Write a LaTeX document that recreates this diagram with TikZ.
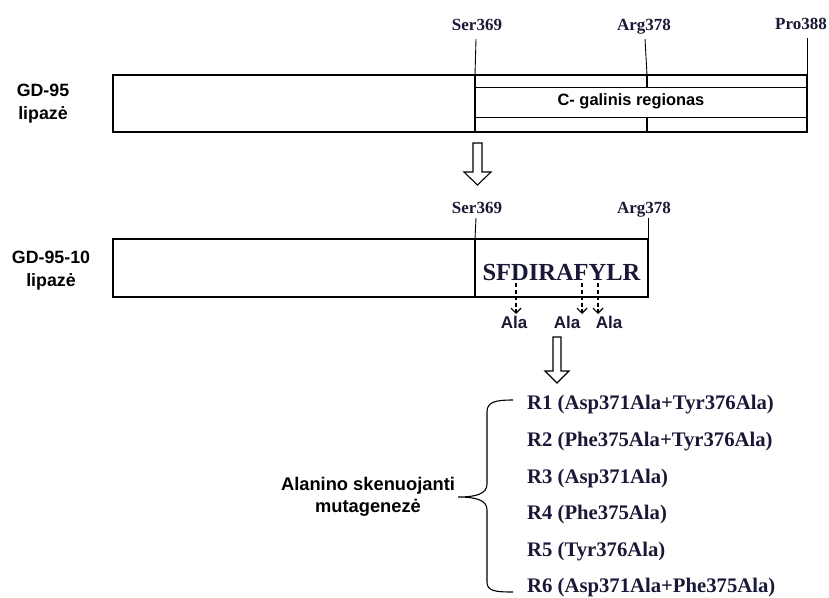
\documentclass[tikz,border=0pt]{standalone}
\usepackage{fontspec}
\setmainfont{Liberation Serif}
\newfontfamily\arialfont{Liberation Sans}
\usetikzlibrary{arrows.meta}
\definecolor{navy}{RGB}{25,25,55}
\tikzset{
  boxline/.style={line width=1.8pt, black},
  thinline/.style={line width=1pt, black},
  tick/.style={line width=0.9pt, black},
  resname/.style={font=\bfseries\fontsize{17}{19}\selectfont, text=navy, inner sep=0pt, anchor=base},
  sanslabel/.style={font=\arialfont\bfseries\fontsize{17.8}{22.5}\selectfont, align=center, inner sep=1pt},
  alalabel/.style={font=\arialfont\bfseries\fontsize{17}{19}\selectfont, text=navy, inner sep=0pt},
  rlabel/.style={font=\bfseries\fontsize{20.7}{23}\selectfont, text=navy, anchor=west, inner sep=0pt},
  hollowarrow/.style={draw=black, line width=1.1pt, fill=white},
  dasharrow/.style={dashed, line width=1.2pt, dash pattern=on 4pt off 2.5pt, -{Straight Barb[length=5pt,width=10pt,line width=1.2pt]}}
}
\begin{document}
\begin{tikzpicture}[x=1pt,y=-1pt]
\useasboundingbox (0,0) rectangle (829,597);
% ---------- top protein ----------
\node[sanslabel] (gd95) at (43,103.5) {GD-95\\lipazė};
\draw[boxline] (113,75) rectangle (807,132);
\coordinate (s1t) at (475,75); \coordinate (s1b) at (475,132);
\coordinate (a1t) at (647,75); \coordinate (a1b) at (647,132);
\draw[boxline] (s1t) -- (s1b);
\draw[boxline] (a1t) -- (647,87) (647,117) -- (a1b);
\draw[thinline] (475,87) -- (807,87) (475,117) -- (807,117);
\node[font=\arialfont\bfseries\fontsize{16.4}{19}\selectfont, inner sep=1pt] (creg) at (631,101) {C- galinis regionas};
\node[resname] (ser1) at (477,30) {Ser369};
\node[resname] (arg1) at (644,30) {Arg378};
\node[resname] (pro1) at (801,29) {Pro388};
\draw[tick] (476,39) -- (s1t);
\draw[tick] (645,39) -- (a1t);
\coordinate (p1t) at (807,75);
\draw[tick] (807,38) -- (p1t);
% hollow arrow 1
\draw[hollowarrow] (473,143) -- (482,143) -- (482,172) -- (491,172) -- (477.5,185) -- (464,172) -- (473,172) -- cycle;
% ---------- second protein ----------
\node[sanslabel] (gd9510) at (51,270.5) {GD-95-10\\lipazė};
\draw[boxline] (113,239) rectangle (648,297);
\coordinate (s2t) at (475,239); \coordinate (s2b) at (475,297);
\draw[line width=2.8pt] (s2t) -- (s2b);
\node[resname] (ser2) at (477,213) {Ser369};
\node[resname] (arg2) at (644,213) {Arg378};
\draw[tick] (476,218) -- (s2t);
\coordinate (a2t) at (648,239);
\draw[tick] (648,218) -- (a2t);
\node[font=\bfseries\fontsize{24.5}{27}\selectfont, text=navy, inner sep=0pt] (seq) at (561.5,273) {SFDIRAFYLR};
\node[alalabel] (ala1) at (514,322) {Ala};
\node[alalabel] (ala2) at (567,322) {Ala};
\node[alalabel] (ala3) at (609,322) {Ala};
\coordinate (d1) at (516,283); \coordinate (d1e) at (516,314);
\coordinate (d2) at (582,283); \coordinate (d2e) at (582,314);
\coordinate (d3) at (598,283); \coordinate (d3e) at (598,314);
\draw[dasharrow] (d1) -- (d1e);
\draw[dasharrow] (d2) -- (d2e);
\draw[dasharrow] (d3) -- (d3e);
% hollow arrow 2
\draw[hollowarrow] (553,337) -- (561,337) -- (561,371) -- (569,371) -- (557,383) -- (545,371) -- (553,371) -- cycle;
% ---------- brace and list ----------
\node[font=\arialfont\bfseries\fontsize{18.3}{22}\selectfont, align=center, inner sep=1pt] (ala) at (368,497) {Alanino skenuojanti\\mutagenezė};
\coordinate (btop) at (513,400);
\coordinate (bbot) at (513,592);
\coordinate (btip) at (458,497);
\draw[line width=1.1pt] (btop) .. controls (495,400) and (487,402) .. (487,412)
  -- (487,484) .. controls (487,494) and (476,497) .. (btip)
  .. controls (476,497) and (487,500) .. (487,510)
  -- (487,582) .. controls (487,591) and (495,592) .. (bbot);
\node[rlabel] (r1) at (527,405) {R1 (Asp371Ala+Tyr376Ala)};
\node[rlabel] (r2) at (527,442) {R2 (Phe375Ala+Tyr376Ala)};
\node[rlabel] (r3) at (527,479) {R3 (Asp371Ala)};
\node[rlabel] (r4) at (527,515) {R4 (Phe375Ala)};
\node[rlabel] (r5) at (527,552) {R5 (Tyr376Ala)};
\node[rlabel] (r6) at (527,588) {R6 (Asp371Ala+Phe375Ala)};
\end{tikzpicture}
\end{document}
